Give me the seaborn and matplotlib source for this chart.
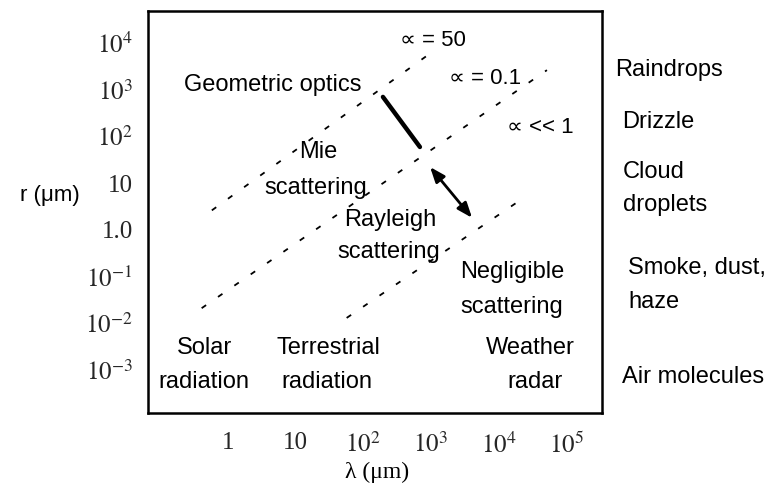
import numpy as np
import pandas as pd
import matplotlib
matplotlib.use("Agg")
import matplotlib.pyplot as plt
import seaborn as sns

# ---- data ----
xtick_vals = [1, 10, 1e2, 1e3, 1e4, 1e5]
xtick_labels = ["1", "10", r"$10^2$", r"$10^3$", r"$10^4$", r"$10^5$"]
ytick_vals = [1e-3, 1e-2, 1e-1, 1, 10, 1e2, 1e3, 1e4]
ytick_labels = [r"$10^{-3}$", r"$10^{-2}$", r"$10^{-1}$", "1.0", "10", r"$10^2$", r"$10^3$", r"$10^4$"]

# dashed size-parameter lines: endpoints (lambda, r)
alpha50_lam = [0.58, 910]
alpha50_r = [2.6, 5500]
alpha01_lam = [0.41, 52000]
alpha01_r = [0.021, 2600]
alphasmall_lam = [57, 21000]
alphasmall_r = [0.013, 4.3]
# thick segment and double arrow
thick_lam = [196, 690]
thick_r = [695, 59]
arrow_lam = [975, 4070]
arrow_r = [22, 1.8]

W, H = 773, 491
DPI = 100
sns.set_style("white")
plt.rcParams['font.family'] = ['Liberation Sans', 'DejaVu Sans']
plt.rcParams['mathtext.fontset'] = 'stix'

fig = plt.figure(figsize=(W / DPI, H / DPI), dpi=DPI)
L, R, T, B = 148, 602, 11, 413
ax = fig.add_axes([L / W, 1 - B / H, (R - L) / W, (B - T) / H])

ax.set_xscale("log")
ax.set_yscale("log")
ax.set_xlim(10 ** -1.18, 10 ** 5.53)
ax.set_ylim(10 ** -3.92, 10 ** 4.68)

dash = (0, (3, 8))
for lx, ly in [(alpha50_lam, alpha50_r), (alpha01_lam, alpha01_r), (alphasmall_lam, alphasmall_r)]:
    df = pd.DataFrame({"lam": lx, "r": ly})
    sns.lineplot(data=df, x="lam", y="r", ax=ax, color="black", lw=1.3,
                 linestyle=dash, sort=False, legend=False)

df = pd.DataFrame({"lam": thick_lam, "r": thick_r})
sns.lineplot(data=df, x="lam", y="r", ax=ax, color="black", lw=3.2,
             sort=False, legend=False, solid_capstyle="round")

ax.annotate("", xy=(arrow_lam[1], arrow_r[1]), xytext=(arrow_lam[0], arrow_r[0]),
            arrowprops=dict(arrowstyle="<|-|>,head_length=0.9,head_width=0.35",
                            color="black", lw=2.0, shrinkA=0, shrinkB=0))

ax.set_xticks(xtick_vals)
ax.set_xticklabels(xtick_labels, fontfamily="Liberation Serif", fontsize=18)
ax.set_yticks(ytick_vals)
ax.set_yticklabels(ytick_labels, fontfamily="Liberation Serif", fontsize=18)
ax.minorticks_off()
ax.tick_params(axis="x", direction="in", length=7, width=1.2, pad=14, top=False)
ax.tick_params(axis="y", direction="in", length=6, width=1.2, pad=11, right=False)
ax.set_xlabel("")
ax.set_ylabel("")
for s in ax.spines.values():
    s.set_visible(True)
    s.set_color("black")
    s.set_linewidth(1.8)

FS = 17


def ptext(px, py, s, ha="center", fs=FS, **kw):
    fig.text(px / W, 1 - py / H, s, ha=ha, va="center", fontsize=fs, color="black", **kw)


ptext(377, 472, "λ (μm)", fs=17, family=["Liberation Serif", "DejaVu Serif"])
ptext(50, 195, "r (μm)", fs=16)

ptext(273, 85, "Geometric optics")
ptext(433, 40, "∝ = 50", fs=16)
ptext(485, 78, "∝ = 0.1", fs=16)
ptext(540, 128, "∝ << 1", fs=16)
ptext(318, 152, "Mie")
ptext(316, 188, "scattering")
ptext(390, 220, "Rayleigh")
ptext(389, 252, "scattering")
ptext(512, 272, "Negligible")
ptext(512, 307, "scattering")
ptext(205, 348, "Solar")
ptext(204, 382, "radiation")
ptext(328, 348, "Terrestrial")
ptext(327, 382, "radiation")
ptext(530, 348, "Weather")
ptext(535, 382, "radar")

ptext(615, 70, "Raindrops", ha="left")
ptext(622, 122, "Drizzle", ha="left")
ptext(623, 172, "Cloud", ha="left")
ptext(623, 205, "droplets", ha="left")
ptext(628, 268, "Smoke, dust,", ha="left")
ptext(628, 302, "haze", ha="left")
ptext(622, 377, "Air molecules", ha="left")

fig.savefig("out.png", dpi=DPI)
